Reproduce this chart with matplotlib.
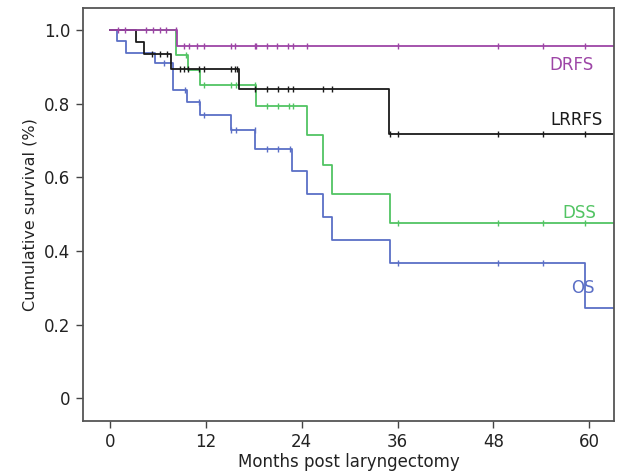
import numpy as np
import matplotlib.pyplot as plt

plt.rcParams['font.family'] = ['DejaVu Sans']

# event times (months) and survival after each step
os_t = [0.85, 2.0, 5.6, 7.9, 9.6, 11.2, 15.2, 18.2, 22.8, 24.7, 26.7, 27.8, 35.0, 59.5]
os_s = [0.971, 0.938, 0.911, 0.837, 0.805, 0.769, 0.728, 0.678, 0.617, 0.555, 0.493, 0.431, 0.368, 0.244]
os_c = [6.7, 9.4, 11.1, 11.7, 15.2, 15.8, 18.1, 19.6, 21.0, 22.5, 36.1, 48.6, 54.2]

dss_t = [8.3, 9.7, 11.2, 18.3, 24.7, 26.7, 27.8, 35.0]
dss_s = [0.932, 0.893, 0.851, 0.795, 0.715, 0.633, 0.555, 0.475]
dss_c = [9.5, 11.8, 15.2, 15.8, 18.1, 19.6, 21.0, 22.4, 22.9, 36.1, 48.6, 54.2, 59.5]

lrrfs_t = [3.3, 4.3, 7.6, 16.1, 34.9]
lrrfs_s = [0.969, 0.934, 0.894, 0.839, 0.717]
lrrfs_c = [5.3, 6.3, 7.1, 8.7, 9.3, 9.7, 11.1, 11.7, 15.2, 15.6, 15.9, 18.1, 19.6,
           21.0, 22.3, 22.9, 26.7, 27.8, 35.1, 36.1, 48.6, 54.2, 59.5]

drfs_t = [8.4]
drfs_s = [0.957]
drfs_c = [1.0, 1.9, 4.5, 5.4, 6.2, 7.0, 8.2, 9.2, 9.9, 10.9, 11.7, 15.2, 15.7, 18.1,
          18.3, 19.6, 20.9, 22.3, 22.9, 24.7, 36.1, 48.6, 54.2, 59.5]

curves = [
    ("OS", os_t, os_s, os_c, "#5b6fc6", 59.2, 0.300),
    ("DSS", dss_t, dss_s, dss_c, "#52c463", 58.8, 0.503),
    ("LRRFS", lrrfs_t, lrrfs_s, lrrfs_c, "#1a1a1a", 58.4, 0.755),
    ("DRFS", drfs_t, drfs_s, drfs_c, "#9d45a6", 57.8, 0.906),
]
END = 64

fig = plt.figure(figsize=(6.17, 4.75), dpi=100)
ax = fig.add_axes([0.1345, 0.1137, 0.8605, 0.8693])

for name, t, s, c, col, lx, ly in curves:
    tt = np.r_[0, t, END]
    ss = np.r_[1.0, s, s[-1]]
    ax.step(tt, ss, where="post", color=col, lw=1.3)
    # censor marks sit on the curve
    idx = np.searchsorted(tt, c, side="right") - 1
    ax.plot(c, ss[idx], ls="none", marker="|", ms=5, mew=1.0, color=col)
    ax.text(lx, ly, name, color=col, fontsize=12, ha="center", va="center")

ax.set_xlim(-3.4, 63.1)
ax.set_ylim(-0.062, 1.06)
ax.set_xticks([0, 12, 24, 36, 48, 60])
ax.set_yticks([0, 0.2, 0.4, 0.6, 0.8, 1.0])
ax.set_yticklabels(["0", "0.2", "0.4", "0.6", "0.8", "1.0"])
ax.tick_params(labelsize=12, length=5, width=1, color="#444", labelcolor="#222", pad=4)
for sp in ax.spines.values():
    sp.set_color("#555")
    sp.set_linewidth(1.3)
ax.set_xlabel("Months post laryngectomy", fontsize=12, color="#222", labelpad=1)
ax.set_ylabel("Cumulative survival (%)", fontsize=11.5, color="#222", labelpad=5)

fig.savefig("out.png", dpi=100)
